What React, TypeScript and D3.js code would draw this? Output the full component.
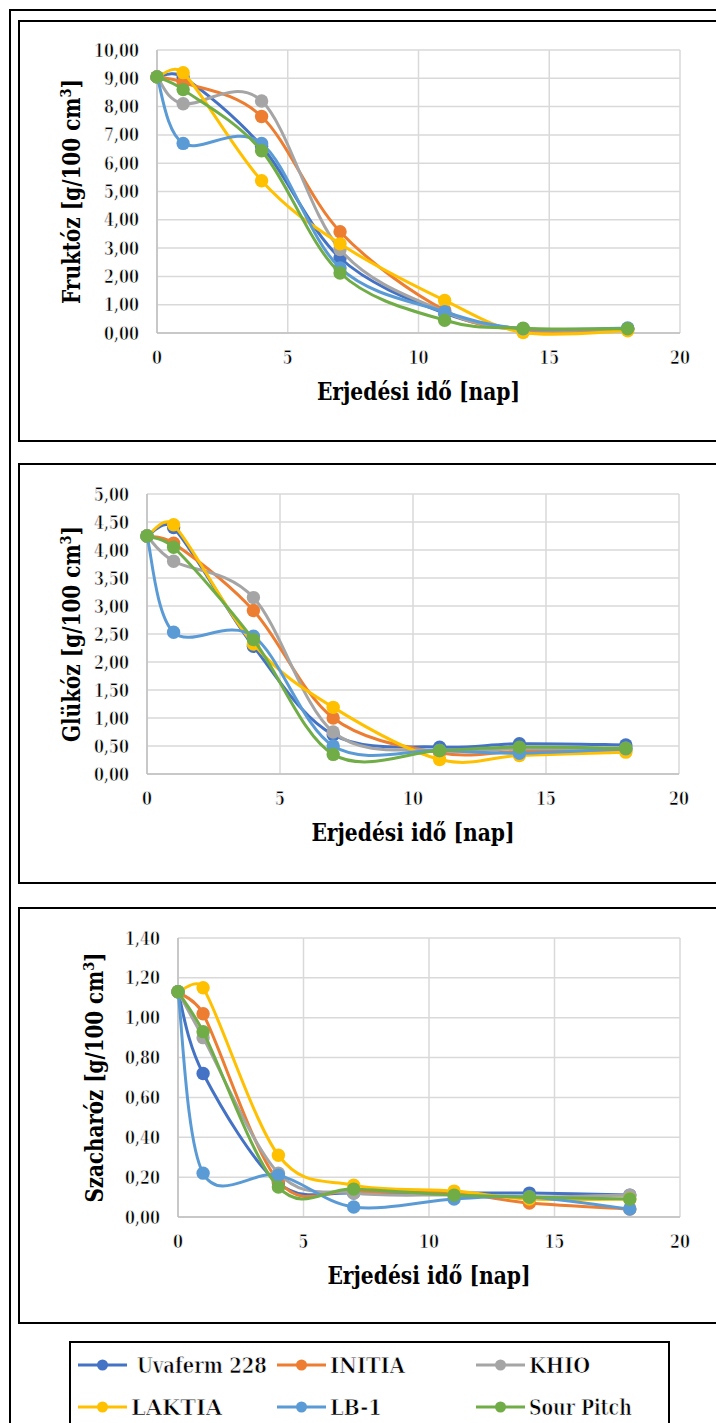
import React from "react";
import * as d3 from "d3";

// Fermentation days (x values shared by every series)
const days = [0, 1, 4, 7, 11, 14, 18];

const seriesNames = ["Uvaferm 228", "INITIA", "KHIO", "LAKTIA", "LB-1", "Sour Pitch"];
const seriesColors = ["#4472C4", "#ED7D31", "#A5A5A5", "#FFC000", "#5B9BD5", "#70AD47"];

// Fructose [g/100 cm3]
const fruktozUvaferm = [9.05, 9.05, 6.6, 2.65, 0.7, 0.15, 0.15];
const fruktozInitia = [9.05, 8.85, 7.65, 3.58, 0.8, 0.1, 0.12];
const fruktozKhio = [9.05, 8.1, 8.2, 2.95, 0.75, 0.15, 0.15];
const fruktozLaktia = [9.05, 9.2, 5.38, 3.15, 1.15, 0.02, 0.08];
const fruktozLb1 = [9.05, 6.7, 6.7, 2.3, 0.75, 0.15, 0.18];
const fruktozSourPitch = [9.05, 8.6, 6.44, 2.12, 0.45, 0.17, 0.15];

// Glucose [g/100 cm3]
const glukozUvaferm = [4.25, 4.4, 2.28, 0.7, 0.48, 0.54, 0.52];
const glukozInitia = [4.25, 4.12, 2.92, 1.0, 0.38, 0.4, 0.42];
const glukozKhio = [4.25, 3.8, 3.15, 0.75, 0.42, 0.45, 0.46];
const glukozLaktia = [4.25, 4.45, 2.32, 1.19, 0.26, 0.33, 0.39];
const glukozLb1 = [4.25, 2.53, 2.46, 0.5, 0.42, 0.37, 0.45];
const glukozSourPitch = [4.25, 4.05, 2.4, 0.35, 0.42, 0.48, 0.46];

// Sucrose [g/100 cm3]
const szacharozUvaferm = [1.13, 0.72, 0.17, 0.12, 0.12, 0.12, 0.11];
const szacharozInitia = [1.13, 1.02, 0.18, 0.13, 0.12, 0.07, 0.04];
const szacharozKhio = [1.13, 0.9, 0.22, 0.12, 0.11, 0.1, 0.11];
const szacharozLaktia = [1.13, 1.15, 0.31, 0.16, 0.13, 0.09, 0.09];
const szacharozLb1 = [1.13, 0.22, 0.21, 0.05, 0.09, 0.1, 0.04];
const szacharozSourPitch = [1.13, 0.93, 0.15, 0.14, 0.11, 0.1, 0.09];

const xTicks = [0, 5, 10, 15, 20];
const xTitle = "Erjedési idő [nap]";
const yUnit = " [g/100 cm";

const FONT = "'DejaVu Serif'";
const fmt = (v: number) => v.toFixed(2).replace(".", ",");

// Advance widths (per 1000 em) of a Times-style face, used to fit the
// wider serif glyphs into the intended text widths.
const REGULAR_W: Record<string, number> = {
  " ": 250, ",": 250, "-": 333, A: 722, B: 667, H: 722, I: 333, K: 722, L: 611, N: 722, O: 722,
  P: 556, S: 556, T: 611, U: 722, a: 444, c: 444, e: 444, f: 333, h: 500, i: 278, m: 778,
  o: 500, r: 333, t: 278, u: 500, v: 500,
};
const BOLD_W: Record<string, number> = {
  " ": 250, "[": 333, "]": 333, "/": 278, E: 667, F: 611, G: 778, S: 556, a: 500, c: 444,
  d: 556, e: 444, "é": 444, g: 500, h: 556, i: 278, j: 333, k: 556, l: 278, m: 833, n: 556,
  o: 500, "ó": 500, "ő": 500, p: 556, r: 444, s: 389, t: 333, u: 556, "ü": 556, z: 444,
};
const textWidth = (s: string, size: number, bold = false) => {
  const table = bold ? BOLD_W : REGULAR_W;
  let w = 0;
  for (const ch of s) w += table[ch] ?? 500;
  return (w / 1000) * size;
};

const TICK_SIZE = 20;
const TITLE_SIZE = 26.5;
const LEGEND_SIZE = 24.5;
const GLYPH_SCALE = 0.89;

// Smoothed line: Catmull-Rom style tangents, with each control arm
// limited to half of the segment it belongs to.
function smoothPath(pts: [number, number][]): string {
  const n = pts.length;
  const p = d3.path();
  if (!n) return "";
  p.moveTo(pts[0][0], pts[0][1]);
  const tangent = (i: number): [number, number] => {
    const a = pts[Math.max(0, i - 1)];
    const b = pts[Math.min(n - 1, i + 1)];
    return [(b[0] - a[0]) / 6, (b[1] - a[1]) / 6];
  };
  const cap = (v: [number, number], L: number): [number, number] => {
    const len = Math.hypot(v[0], v[1]);
    if (len <= L || len === 0) return v;
    return [(v[0] * L) / len, (v[1] * L) / len];
  };
  for (let i = 0; i < n - 1; i++) {
    const a = pts[i];
    const b = pts[i + 1];
    const seg = Math.hypot(b[0] - a[0], b[1] - a[1]);
    const t0 = cap(tangent(i), seg / 2);
    const t1 = cap(tangent(i + 1), seg / 2);
    p.bezierCurveTo(a[0] + t0[0], a[1] + t0[1], b[0] - t1[0], b[1] - t1[1], b[0], b[1]);
  }
  return p.toString();
}

type ChartSpec = {
  label: string;
  series: number[][];
  yMax: number;
  yStep: number;
  box: { top: number; bottom: number };
  plot: { left: number; right: number; top: number; bottom: number };
  yTitleX: number;
};

const charts: ChartSpec[] = [
  {
    label: "Fruktóz",
    series: [fruktozUvaferm, fruktozInitia, fruktozKhio, fruktozLaktia, fruktozLb1, fruktozSourPitch],
    yMax: 10,
    yStep: 1,
    box: { top: 21, bottom: 441 },
    plot: { left: 157, right: 680, top: 50, bottom: 333 },
    yTitleX: 72,
  },
  {
    label: "Glükóz",
    series: [glukozUvaferm, glukozInitia, glukozKhio, glukozLaktia, glukozLb1, glukozSourPitch],
    yMax: 5,
    yStep: 0.5,
    box: { top: 464, bottom: 883 },
    plot: { left: 147, right: 679, top: 494, bottom: 774 },
    yTitleX: 72,
  },
  {
    label: "Szacharóz",
    series: [szacharozUvaferm, szacharozInitia, szacharozKhio, szacharozLaktia, szacharozLb1, szacharozSourPitch],
    yMax: 1.4,
    yStep: 0.2,
    box: { top: 908, bottom: 1323 },
    plot: { left: 178, right: 680, top: 938, bottom: 1217 },
    yTitleX: 95,
  },
];

// Text fitted to a Times-like width. Regular-weight text uses the bold
// serif face with a thin white outline to lighten its strokes.
function FitText(props: {
  x: number;
  y: number;
  text: string;
  size: number;
  bold?: boolean;
  anchor?: "start" | "middle" | "end";
}) {
  const { x, y, text, size, bold, anchor = "start" } = props;
  return (
    <text
      x={x}
      y={y}
      textAnchor={anchor}
      fontFamily={FONT}
      fontSize={size * GLYPH_SCALE}
      fontWeight="bold"
      textLength={textWidth(text, size, bold)}
      lengthAdjust="spacingAndGlyphs"
      fill="#000"
      stroke={bold ? "none" : "#fff"}
      strokeWidth={bold ? 0 : 0.75}
    >
      {text}
    </text>
  );
}

function Chart({ spec }: { spec: ChartSpec }) {
  const { plot } = spec;
  const x = d3.scaleLinear().domain([0, 20]).range([plot.left, plot.right]);
  const y = d3.scaleLinear().domain([0, spec.yMax]).range([plot.bottom, plot.top]);
  const nTicks = Math.round(spec.yMax / spec.yStep);
  const yTicks = d3.range(0, nTicks + 1).map((i) => +(i * spec.yStep).toFixed(2));
  const midY = (plot.top + plot.bottom) / 2;
  const midX = (plot.left + plot.right) / 2;
  const supSize = TITLE_SIZE * 0.65;
  const yTitleLen =
    textWidth(spec.label + yUnit, TITLE_SIZE, true) + textWidth("3", supSize, true) + textWidth("]", TITLE_SIZE, true);

  return (
    <g>
      <rect
        x={19}
        y={spec.box.top}
        width={720}
        height={spec.box.bottom - spec.box.top}
        fill="#fff"
        stroke="#000"
        strokeWidth={2}
      />
      {/* gridlines */}
      {yTicks.map((t) => (
        <line key={"gy" + t} x1={plot.left} x2={plot.right} y1={y(t)} y2={y(t)} stroke="#D9D9D9" strokeWidth={1.5} />
      ))}
      {xTicks.map((t) => (
        <line key={"gx" + t} x1={x(t)} x2={x(t)} y1={plot.top} y2={plot.bottom} stroke="#D9D9D9" strokeWidth={1.5} />
      ))}
      {/* axes */}
      <line x1={plot.left} x2={plot.left} y1={plot.top} y2={plot.bottom} stroke="#BFBFBF" strokeWidth={1.5} />
      <line x1={plot.left} x2={plot.right} y1={plot.bottom} y2={plot.bottom} stroke="#BFBFBF" strokeWidth={1.5} />
      {/* tick labels */}
      {yTicks.map((t) => (
        <FitText key={"ty" + t} x={plot.left - 18} y={y(t) + 6.5} text={fmt(t)} size={TICK_SIZE} anchor="end" />
      ))}
      {xTicks.map((t) => (
        <FitText key={"tx" + t} x={x(t)} y={plot.bottom + 31} text={String(t)} size={TICK_SIZE} anchor="middle" />
      ))}
      {/* series */}
      {spec.series.map((vals, si) => (
        <g key={"s" + si}>
          <path
            d={smoothPath(vals.map((v, i) => [x(days[i]), y(v)] as [number, number]))}
            fill="none"
            stroke={seriesColors[si]}
            strokeWidth={3}
          />
          {vals.map((v, i) => (
            <circle key={i} cx={x(days[i])} cy={y(v)} r={6.7} fill={seriesColors[si]} />
          ))}
        </g>
      ))}
      {/* axis titles */}
      <FitText x={midX} y={plot.bottom + 67} text={xTitle} size={TITLE_SIZE} bold anchor="middle" />
      <text
        transform={`translate(${spec.yTitleX + 8},${midY}) rotate(-90)`}
        textAnchor="middle"
        fontFamily={FONT}
        fontSize={TITLE_SIZE * GLYPH_SCALE}
        fontWeight="bold"
        textLength={yTitleLen}
        lengthAdjust="spacingAndGlyphs"
        fill="#000"
      >
        {spec.label + yUnit}
        <tspan baselineShift="super" fontSize={supSize * GLYPH_SCALE}>3</tspan>]
      </text>
    </g>
  );
}

export default function App() {
  const legendRows = [
    [0, 1, 2],
    [3, 4, 5],
  ];
  const colX = [78, 277, 476];
  const rowY = [1365, 1407];
  return (
    <svg
      width={716}
      height={1423}
      style={{ position: "absolute", left: 0, top: 0, background: "#fff" }}
    >
      <rect x={10} y={10} width={720} height={1430} fill="#fff" stroke="#000" strokeWidth={2} />
      {charts.map((c) => (
        <Chart key={c.label} spec={c} />
      ))}
      <rect x={70} y={1342} width={599} height={100} fill="#fff" stroke="#000" strokeWidth={2} />
      {legendRows.map((row, ri) =>
        row.map((si, ci) => (
          <g key={si}>
            <line x1={colX[ci]} x2={colX[ci] + 49} y1={rowY[ri]} y2={rowY[ri]} stroke={seriesColors[si]} strokeWidth={3} />
            <circle cx={colX[ci] + 24.5} cy={rowY[ri]} r={5.5} fill={seriesColors[si]} />
            <FitText
              x={colX[ci] + (si === 0 ? 59 : 53)}
              y={rowY[ri] + 8}
              text={seriesNames[si]}
              size={LEGEND_SIZE}
            />
          </g>
        ))
      )}
    </svg>
  );
}
